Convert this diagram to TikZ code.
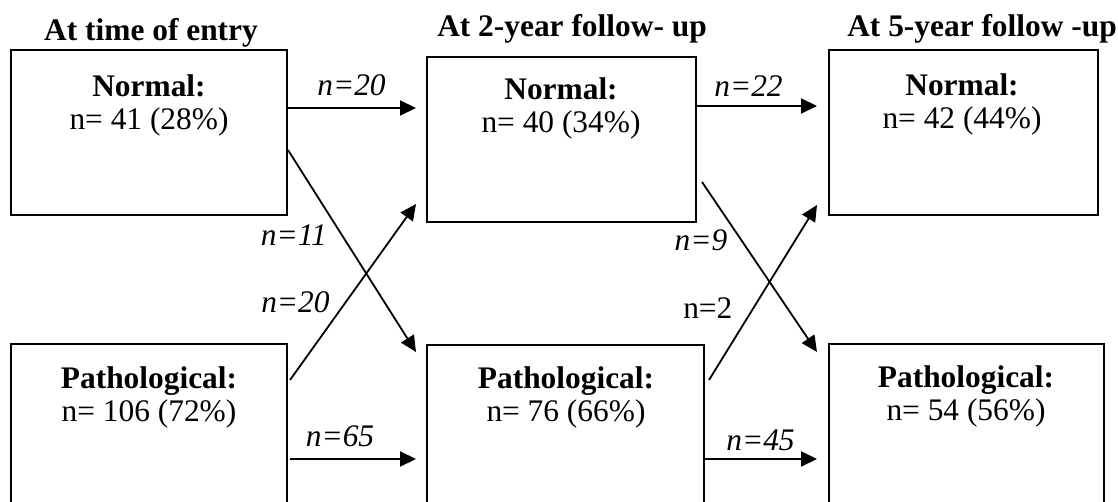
\documentclass[tikz,border=0pt]{standalone}
\usepackage{fontspec}
\setmainfont{Liberation Serif}
\usepackage{tikz}
\usetikzlibrary{positioning,calc,arrows.meta}

\begin{document}
\begin{tikzpicture}[x=0.5pt, y=-0.5pt, >={Triangle[length=8pt,width=7.5pt]},
    font=\fontsize{15.7}{16.5}\selectfont,
    box/.style={draw, line width=1pt, inner sep=0pt, outer sep=0pt},
    txt/.style={align=center, inner sep=0pt, anchor=north},
    ttl/.style={inner sep=0pt, anchor=north, font=\fontsize{15.7}{16.5}\selectfont\bfseries},
    lab/.style={inner sep=0pt, font=\fontsize{15.7}{16.5}\selectfont\itshape},
    flow/.style={->, line width=1pt},
    cross/.style={->, line width=0.9pt}]
  \useasboundingbox (0,0) rectangle (1118,502);
  \clip (0,0) rectangle (1118,502);

  % column headings
  \node[ttl] (t0) at (151,18) {At time of entry};
  \node[ttl] (t2) at (572,14) {At 2-year follow- up};
  \node[ttl] (t5) at (982,14) {At 5-year follow -up};

  % boxes
  \node[box, minimum width=138pt, minimum height=82.5pt] (norm0) at (149,132.5) {};
  \node[box, minimum width=134.5pt, minimum height=82.5pt] (norm2) at (561.5,139.5) {};
  \node[box, minimum width=134.5pt, minimum height=82.5pt] (norm5) at (963.5,132.5) {};
  \node[box, minimum width=138pt, minimum height=88pt] (path0) at (149,432) {};
  \node[box, minimum width=138.5pt, minimum height=87.5pt] (path2) at (565.5,432.5) {};
  \node[box, minimum width=137.5pt, minimum height=88pt] (path5) at (966.5,432) {};

  \node[txt] (norm0txt) at (149,74) {\textbf{Normal:}\\n= 41 (28\%)};
  \node[txt] (norm2txt) at (561,77) {\textbf{Normal:}\\n= 40 (34\%)};
  \node[txt] (norm5txt) at (962,73) {\textbf{Normal:}\\n= 42 (44\%)};
  \node[txt] (path0txt) at (149,366) {\textbf{Pathological:}\\n= 106 (72\%)};
  \node[txt] (path2txt) at (566,366) {\textbf{Pathological:}\\n= 76 (66\%)};
  \node[txt] (path5txt) at (966,365) {\textbf{Pathological:}\\n= 54 (56\%)};

  % straight transitions
  \draw[flow] ($(norm0.north east)+(0,58)$) -- node[lab, above=5.5pt] (l1) {n=20} ($(norm2.north west)+(-11,51)$);
  \draw[flow] ($(norm2.north east)+(0,49)$) -- node[lab, above=4pt, xshift=-4pt] (l2) {n=22} ($(norm5.north west)+(-12,56)$);
  \draw[flow] ($(path0.north east)+(3,115)$) -- node[lab, above=5.5pt, xshift=-6.5pt] (l3) {n=65} ($(path2.north west)+(-11,114)$);
  \draw[flow] ($(path2.north east)+(0,114)$) -- node[lab, above=3.5pt] (l4) {n=45} ($(path5.north west)+(-12,115)$);

  % crossing transitions
  \draw[cross] ($(norm0.north east)+(1,100)$) -- node[lab, pos=0.42, left=7pt] (l5) {n=11} ($(path2.north west)+(-11,7)$);
  \draw[cross] ($(path0.north east)+(3,36)$) -- node[lab, pos=0.44, left=7.5pt] (l6) {n=20} ($(norm2.south west)+(-11,-18)$);
  \draw[cross] ($(norm2.south east)+(6,-40)$) -- node[lab, pos=0.34, left=6.5pt] (l7) {n=9} ($(path5.north west)+(-12,8)$);
  \draw[cross] ($(path2.north east)+(5,35)$) -- node[inner sep=0pt, pos=0.41, left=10pt] (l8) {n=2} ($(norm5.south west)+(-12,-10)$);
\end{tikzpicture}
\end{document}
